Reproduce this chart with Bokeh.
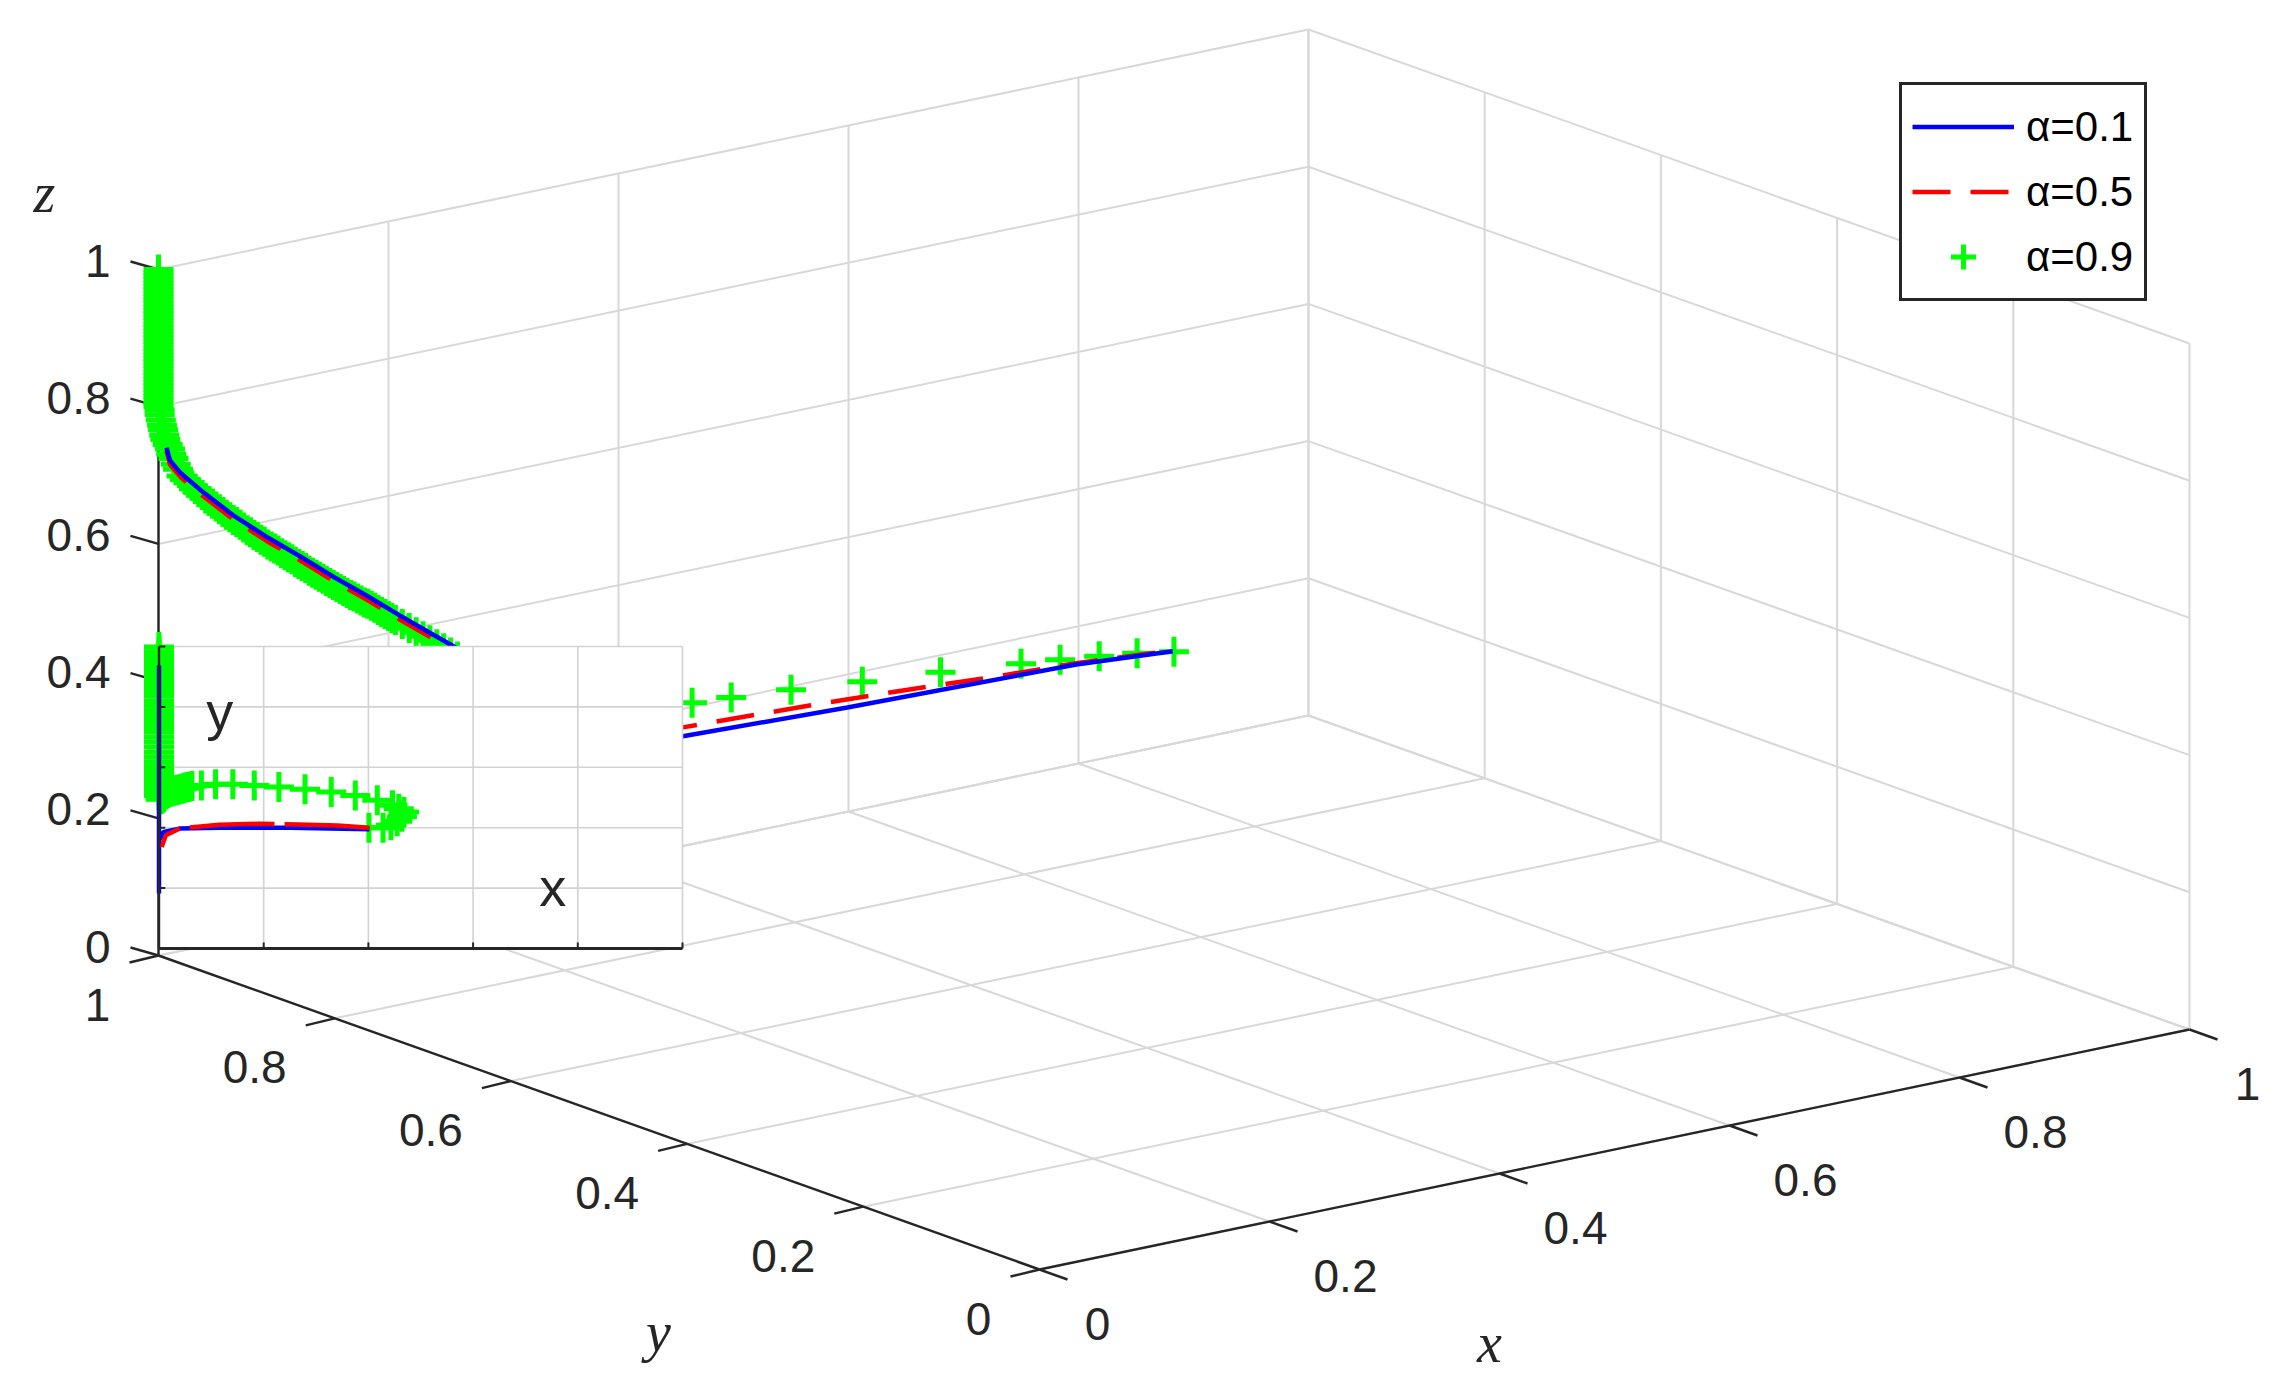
from bokeh.core.properties import value
from bokeh.embed import file_html
from bokeh.models import Legend, LegendItem, Range1d
from bokeh.plotting import figure
from bokeh.resources import INLINE

ticks = [0, 0.2, 0.4, 0.6, 0.8, 1]
x_tick_labels = ['0', '0.2', '0.4', '0.6', '0.8', '1']
y_tick_labels = ['0', '0.2', '0.4', '0.6', '0.8', '1']
z_tick_labels = ['0', '0.2', '0.4', '0.6', '0.8', '1']

# trajectories (y stays at its upper limit)
blue_x = [0, 0, .002, .007, .010, .019, .037, .065, .095, .123, .152, .182, .210, .239, .258, .412, .456, .599, .798, .882]
blue_z = [1, .809, .764, .738, .718, .697, .665, .619, .576, .539, .499, .460, .422, .384, .359, .163, .160, .152, .145, .135]
blue_y = [1.0] * len(blue_x)

red_x = [0, 0, .002, .007, .010, .019, .037, .065, .095, .123, .152, .182, .210, .239, .258, .412, .456, .556, .636, .727, .798, .882]
red_z = [1, .809, .760, .733, .712, .691, .659, .613, .570, .533, .493, .454, .416, .378, .353, .176, .173, .167, .161, .152, .147, .136]
red_y = [1.0] * len(red_x)

green_x = [0] * 41 + [.001, .001, .002, .003, .004, .005, .006, .008, .010, .011, .013, .015, .017,
           .020, .023, .026, .029, .032, .035, .038, .041, .044, .047, .050, .053, .056, .059, .062, .065,
           .068, .071, .074, .077, .080, .083, .086, .089, .092, .095, .098, .101, .104, .107, .110, .113,
           .116, .119, .122, .125, .128, .131, .134, .137, .140, .143, .146, .149, .152, .155, .158, .161,
           .164, .167, .170, .173, .176, .179, .182, .185, .188, .191, .194, .197, .200, .203, .206,
           .212, .218, .224, .230, .236, .242, .248, .254, .260,
           .464, .498, .550, .612, .680, .750, .784, .818, .851, .883]
green_z = [1, .995, .99, .985, .98, .975, .97, .965, .96, .955, .95, .945, .94, .935, .93, .925, .92, .915, .91, .905,
           .90, .895, .89, .885, .88, .875, .87, .865, .86, .855, .85, .845, .84, .835, .83, .825, .82, .815, .81, .805, .80,
           .795, .788, .78, .772, .765, .757, .75, .742, .735, .727, .72, .711, .703,
           .692, .686, .680, .675, .669, .663, .658, .652, .647, .642, .637, .632, .627, .622, .617, .612,
           .608, .603, .598, .593, .589, .584, .580, .575, .571, .566, .562, .558, .554, .549, .545, .541,
           .537, .532, .528, .524, .520, .515, .511, .507, .503, .499, .495, .491, .487, .483, .479, .475,
           .471, .467, .464, .460, .456, .452, .449, .445, .441, .437, .433, .429, .425, .421, .417,
           .409, .401, .393, .385, .377, .369, .361, .353, .345,
           .206, .202, .195, .185, .175, .163, .157, .150, .143, .134]
green_y = [1.0] * len(green_x)

# inset, both axes scaled 0..1
inset_ticks = [0, 0.2, 0.4, 0.6, 0.8, 1]
inset_blue_x = [.402, .251, .115, .039, .009, 0, 0, 0]
inset_blue_y = [.395, .400, .400, .397, .386, .358, .182, .937]
inset_red_x = [.402, .341, .266, .190, .115, .039, .013, .005]
inset_red_y = [.400, .407, .411, .413, .410, .397, .375, .336]
inset_green_x = [0] * 34 + [.003, .006, .009, .013, .017, .020, .024, .028, .032, .035, .039, .043, .047, .050, .054, .058, .063,
                            .081, .108, .141, .182, .229, .279, .329, .375, .417, .446, .458, .468, .464, .455, .443, .428, .401]
inset_green_y = [.998, .983, .970, .956, .943, .929, .915, .901, .888, .874, .860, .848, .835, .818, .802, .787, .772, .758,
                 .744, .730, .717, .700, .684, .667, .650, .633, .617, .602, .588, .573, .556, .540, .523, .507,
                 .494, .496, .502, .510, .515, .518, .520, .522, .524, .525, .527, .529, .531, .533, .535, .536, .538,
                 .540, .544, .544, .540, .535, .527, .518, .507, .491, .474, .463, .452, .436, .421, .408, .400, .400]


def project(x, y, z):
    return 1039 + 1150 * x - 881 * y, 1269 - 240 * x - 314 * y - 686 * z


def project_all(xs, ys, zs):
    pts = [project(a, b, c) for a, b, c in zip(xs, ys, zs)]
    return [q[0] for q in pts], [q[1] for q in pts]


p = figure(width=2270, height=1373, x_range=Range1d(0, 2270), y_range=Range1d(1373, 0),
           x_axis_location=None, y_axis_location=None,
           output_backend="svg", toolbar_location=None, min_border=0)
p.grid.visible = False
p.outline_line_color = None
p.background_fill_color = "white"

GRID = "#d8d8d8"
DARK = "#262626"
FONT = value("Liberation Sans")

grid_xs, grid_ys = [], []
for t in ticks:
    for a, b in [((t, 0, 0), (t, 1, 0)), ((0, t, 0), (1, t, 0)),
                 ((t, 1, 0), (t, 1, 1)), ((0, 1, t), (1, 1, t)),
                 ((1, t, 0), (1, t, 1)), ((1, 0, t), (1, 1, t))]:
        x0, y0 = project(*a)
        x1, y1 = project(*b)
        grid_xs.append([x0, x1])
        grid_ys.append([y0, y1])
p.multi_line(grid_xs, grid_ys, line_color=GRID, line_width=2)

# axis lines and ticks
axis_xs, axis_ys = [], []
for a, b in [((0, 0, 0), (1, 0, 0)), ((0, 0, 0), (0, 1, 0)), ((0, 1, 0), (0, 1, 1))]:
    x0, y0 = project(*a)
    x1, y1 = project(*b)
    axis_xs.append([x0, x1])
    axis_ys.append([y0, y1])
for t in ticks:
    x0, y0 = project(t, 0, 0)
    axis_xs.append([x0, x0 + 28])
    axis_ys.append([y0, y0 + 10])
    x0, y0 = project(0, t, 0)
    axis_xs.append([x0, x0 - 29])
    axis_ys.append([y0, y0 + 7])
    x0, y0 = project(0, 1, t)
    axis_xs.append([x0, x0 - 28])
    axis_ys.append([y0, y0 - 8])
p.multi_line(axis_xs, axis_ys, line_color=DARK, line_width=2.4)

# tick labels
for t, lab in zip(ticks, x_tick_labels):
    x0, y0 = project(t, 0, 0)
    p.text([x0], [y0], text=[lab], x_offset=58 if len(lab) == 1 else 76, y_offset=54, text_align="center",
           text_baseline="middle", text_font=FONT, text_font_size="46px", text_color=DARK)
for t, lab in zip(ticks, y_tick_labels):
    x0, y0 = project(0, t, 0)
    p.text([x0], [y0], text=[lab], x_offset=-61 if len(lab) == 1 else -80, y_offset=49, text_align="center",
           text_baseline="middle", text_font=FONT, text_font_size="46px", text_color=DARK)
for t, lab in zip(ticks, z_tick_labels):
    x0, y0 = project(0, 1, t)
    p.text([x0], [y0], text=[lab], x_offset=-48, y_offset=-9, text_align="right",
           text_baseline="middle", text_font=FONT, text_font_size="46px", text_color=DARK)

for lab, (lx, ly) in zip(['z', 'y', 'x'], [(44, 192), (658, 1331), (1489, 1342)]):
    p.text([lx], [ly], text=[lab], text_align="center", text_baseline="middle",
           text_font=value("Liberation Serif"), text_font_style="italic",
           text_font_size="56px", text_color=DARK)

# curves of the 3d panel
bx, by = project_all(blue_x, blue_y, blue_z)
rx, ry = project_all(red_x, red_y, red_z)
gx, gy = project_all(green_x, green_y, green_z)
blue_line = p.line(bx[:4], by[:4], line_color="#0000ff", line_width=4.5)
red_line = p.line(rx[:4], ry[:4], line_color="#ff0000", line_width=4.5, line_dash="38 20")
green_pts = p.scatter(gx, gy, marker="cross", size=30, line_color="#00ff00", line_width=5, fill_color=None)
# past the bend the lines sit in front of the markers
p.line(rx[3:], ry[3:], line_color="#ff0000", line_width=4.5, line_dash="38 20")
p.line(bx[3:], by[3:], line_color="#0000ff", line_width=4.5)

# inset
inset = p.subplot(x_source=Range1d(0, 1), y_source=Range1d(0, 1),
                  x_target=Range1d(158.5, 682), y_target=Range1d(948, 646))
inset.quad(left=[0], right=[1], bottom=[0], top=[1], fill_color="white", line_color=None)
for t in inset_ticks:
    inset.line([t, t], [0, 1], line_color="#d2d2d2", line_width=1.6)
    inset.line([0, 1], [t, t], line_color="#d2d2d2", line_width=1.6)
inset.scatter(inset_green_x, inset_green_y, marker="cross", size=30, line_color="#00ff00", line_width=5, fill_color=None)
inset.line(inset_blue_x, inset_blue_y, line_color="#0000ff", line_width=4.5)
inset.line(inset_red_x, inset_red_y, line_color="#ff0000", line_width=4.5, line_dash="85 10")
inset.line([0, 1], [0, 0], line_color=DARK, line_width=2.8)
inset.line([0, 0], [0, 1], line_color=DARK, line_width=2.4)
for t in inset_ticks:
    inset.line([t, t], [0, 0.02], line_color=DARK, line_width=2)
    inset.line([0, 0.012], [t, t], line_color=DARK, line_width=2)
inset.text([0.116], [0.788], text=['y'], text_align="center", text_baseline="middle",
           text_font=FONT, text_font_size="54px", text_color=DARK)
inset.text([0.752], [0.205], text=['x'], text_align="center", text_baseline="middle",
           text_font=FONT, text_font_size="54px", text_color=DARK)

legend = Legend(items=[LegendItem(label="α=0.1", renderers=[blue_line]),
                       LegendItem(label="α=0.5", renderers=[red_line]),
                       LegendItem(label="α=0.9", renderers=[green_pts])],
                location=(1899, 1072), orientation="vertical", margin=0, padding=10, spacing=2,
                glyph_width=102, glyph_height=63, label_height=63, label_width=108, label_standoff=12,
                label_text_font="Liberation Sans", label_text_font_size="42px", label_text_color="black",
                border_line_color="#262626", border_line_alpha=1, border_line_width=3,
                background_fill_color="white", background_fill_alpha=1)
p.add_layout(legend)

open("out.html", "w").write(file_html(p, INLINE))
